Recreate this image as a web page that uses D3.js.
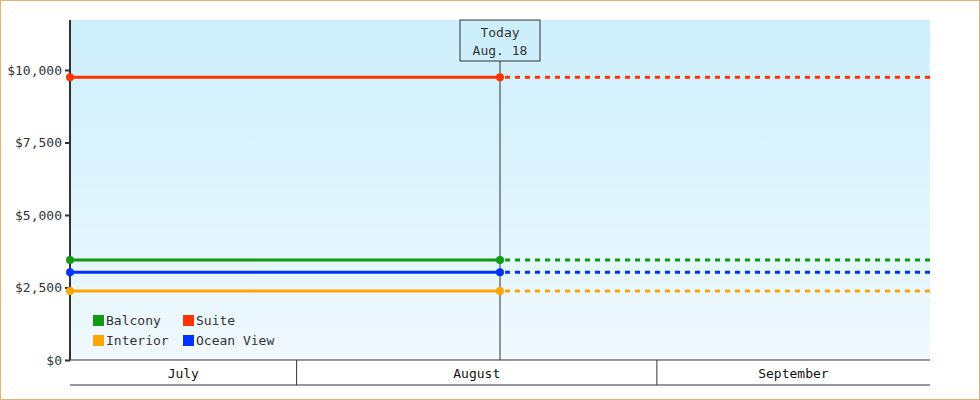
<!DOCTYPE html><html><head><script src="https://cdn.jsdelivr.net/npm/d3@7"></script>
<style>body{margin:0}svg{display:block}text{font-family:"DejaVu Sans Mono",monospace;font-size:13px}</style></head><body>
<svg id="c" width="980" height="400"></svg>
<script>
const series=["Balcony","Suite","Interior","Ocean View"];
const colors=["#119911","#ff3300","#ffa500","#0033ff"];
const values=[3450,9750,2380,3030];
const yTicks=[0,2500,5000,7500,10000];
const months=["July","August","September"];
const monthStarts=["2024-07-01","2024-08-01","2024-09-01","2024-10-01"];
const startDate="2024-07-12T12:00", endDate="2024-09-24T12:00", todayDate="2024-08-18T12:00";
const svg=d3.select("#c");
const L=70,R=930,T=20,B=360;
const x=d3.scaleTime().domain([new Date(startDate),new Date(endDate)]).range([L,R]);
const y=d3.scaleLinear().domain([0,10000]).range([B,70]);
svg.append("rect").attr("x",0.5).attr("y",0.5).attr("width",979).attr("height",399).attr("fill","#fff").attr("stroke","#e8b070");
const g=svg.append("defs").append("linearGradient").attr("id","bg").attr("x1",0).attr("y1",0).attr("x2",0).attr("y2",1);
g.append("stop").attr("offset",0).attr("stop-color","#cdeffc");
g.append("stop").attr("offset",1).attr("stop-color","#f0f9fe");
svg.append("rect").attr("x",L).attr("y",T).attr("width",R-L).attr("height",B-T).attr("fill","url(#bg)");
// y axis
const ya=svg.append("g").attr("transform",`translate(${L},0)`).call(d3.axisLeft(y).tickValues(yTicks).tickSize(5).tickFormat(d=>"$"+d3.format(",")(d)));
ya.select(".domain").remove();
ya.selectAll("line").attr("stroke","#333").attr("stroke-width",2);
ya.selectAll("text").attr("fill","#333").style("font-size","13px");
svg.append("line").attr("x1",L).attr("x2",L).attr("y1",T).attr("y2",B).attr("stroke","#333").attr("stroke-width",2);
// x month bands
const xb=svg.append("g");
xb.append("line").attr("x1",L).attr("x2",R).attr("y1",B).attr("y2",B).attr("stroke","#333");
xb.append("line").attr("x1",L).attr("x2",R).attr("y1",385).attr("y2",385).attr("stroke","#333");
months.forEach((m,i)=>{
  const a=Math.max(L,x(new Date(monthStarts[i]))), b=Math.min(R,x(new Date(monthStarts[i+1])));
  if(i>0) xb.append("line").attr("x1",a).attr("x2",a).attr("y1",B).attr("y2",385).attr("stroke","#333");
  xb.append("text").attr("x",(a+b)/2).attr("y",378).attr("text-anchor","middle").attr("fill","#111").text(m);
});
// today line
const tx=x(new Date(todayDate));
svg.append("line").attr("x1",tx).attr("x2",tx).attr("y1",61).attr("y2",B).attr("stroke","#333");
svg.append("rect").attr("x",tx-40).attr("y",20).attr("width",80).attr("height",41).attr("fill","#cdeffc").attr("stroke","#333");
svg.append("text").attr("x",tx).attr("y",37).attr("text-anchor","middle").attr("fill","#333").text("Today");
svg.append("text").attr("x",tx).attr("y",55).attr("text-anchor","middle").attr("fill","#333").text("Aug. 18");
// series
series.forEach((s,i)=>{
  const yy=y(values[i]);
  svg.append("line").attr("x1",L).attr("x2",tx).attr("y1",yy).attr("y2",yy).attr("stroke",colors[i]).attr("stroke-width",3);
  svg.append("line").attr("x1",tx).attr("x2",R).attr("y1",yy).attr("y2",yy).attr("stroke",colors[i]).attr("stroke-width",3).attr("stroke-dasharray","5,5").attr("stroke-dashoffset",-5);
  [L,tx].forEach(px=>svg.append("circle").attr("cx",px).attr("cy",yy).attr("r",4).attr("fill",colors[i]));
});
// legend
series.forEach((s,i)=>{
  const lx=93+(i%2)*90, ly=315+Math.floor(i/2)*20;
  svg.append("rect").attr("x",lx).attr("y",ly).attr("width",11).attr("height",11).attr("fill",colors[i]);
  svg.append("text").attr("x",lx+13).attr("y",ly+10).attr("fill","#333").text(s);
});
</script></body></html>
